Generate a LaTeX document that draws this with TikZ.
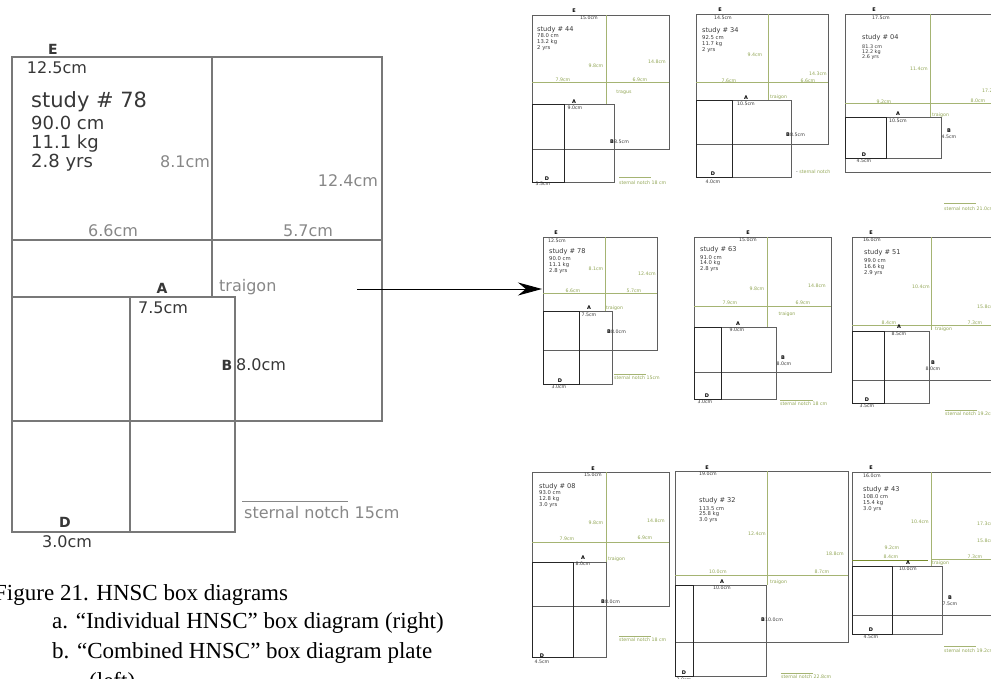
\documentclass[tikz,border=0pt]{standalone}
\usepackage{fontspec}
\usepackage{xcolor}
\setmainfont{Liberation Serif}
\newfontfamily\diafont{DejaVu Sans}
\usetikzlibrary{arrows.meta}
\definecolor{boxgrey}{RGB}{95,95,95}
\definecolor{biggrey}{RGB}{120,120,120}
\definecolor{labelgrey}{RGB}{135,135,135}
\definecolor{inkgrey}{RGB}{55,55,55}
\definecolor{oliveline}{RGB}{165,180,115}
\definecolor{olivedark}{RGB}{120,140,45}
\definecolor{olivetext}{RGB}{145,165,85}

\begin{document}
\begin{tikzpicture}[x=1pt,y=-1pt,
    bigbox/.style={draw=biggrey,line width=1.3pt},
    bigtext/.style={font=\diafont\fontsize{16}{16}\selectfont,inner sep=0,text=inkgrey},
    biggrey/.style={bigtext,text=labelgrey},
    bigletter/.style={font=\diafont\bfseries\fontsize{14}{14}\selectfont,inner sep=0,text=inkgrey},
    smbox/.style={draw=boxgrey,line width=0.75pt},
    smthick/.style={draw=black!85,line width=0.95pt},
    smgreen/.style={draw=oliveline,line width=1pt},
    sm/.style={font=\diafont\fontsize{4.7}{5}\selectfont,inner sep=0,text=inkgrey},
    smg/.style={sm,text=olivetext},
    smb/.style={font=\diafont\bfseries\fontsize{5}{5}\selectfont,inner sep=0},
    smstudy/.style={font=\diafont\fontsize{6.6}{7}\selectfont,inner sep=0,anchor=west,text=inkgrey},
    smdata/.style={font=\diafont\fontsize{5.3}{6}\selectfont,inner sep=0,anchor=north west,align=left,text=inkgrey},
    caption/.style={font=\fontsize{23}{28}\selectfont,anchor=base west,inner sep=0}]
    \useasboundingbox (0,0) rectangle (991,679);

    % Combined box diagram, study # 78 (left)
    \draw[bigbox] (12,57) rectangle (382,421);
    \draw[bigbox] (212,57) -- (212,297);
    \draw[bigbox] (12,240) -- (382,240);
    \draw[bigbox] (12,297) rectangle (235,532);
    \draw[bigbox] (130,297) -- (130,532);
    \node[bigletter] (bigE) at (53,49) {E};
    \node[bigtext] (bigtop) at (57,68) {12.5cm};
    \node[font=\diafont\fontsize{21}{21}\selectfont,inner sep=0,anchor=west,text=inkgrey] (bigstudy) at (31,102) {study \# 78};
    \node[font=\diafont\fontsize{18}{19}\selectfont,inner sep=0,anchor=north west,align=left,text=inkgrey] (bigdata) at (31,116) {90.0 cm\\11.1 kg\\2.8 yrs};
    \node[biggrey] (bigv) at (185,162) {8.1cm};
    \node[biggrey] (bigr) at (348,181) {12.4cm};
    \node[biggrey] (bigl) at (113,231) {6.6cm};
    \node[biggrey] (bigrr) at (308,231) {5.7cm};
    \node[biggrey,anchor=west] (bigtrag) at (219,287) {traigon};
    \node[bigletter] (bigA) at (162,288) {A};
    \node[bigtext,anchor=west] (bigAw) at (138,308) {7.5cm};
    \node[bigletter] (bigB) at (227,365) {B};
    \node[bigtext,anchor=west] (bigBw) at (236,365) {8.0cm};
    \node[bigletter] (bigD) at (65,522) {D};
    \node[bigtext] (bigDw) at (67,542) {3.0cm};
    \draw[draw=labelgrey,line width=1pt] (242,501) -- (348,501);
    \node[biggrey,anchor=west] (bigsn) at (244,513) {sternal notch 15cm};

    % arrow to the individual diagram
    \coordinate (arrowstart) at (357,289);
    \coordinate (arrowend) at (542,289);
    \draw[line width=0.9pt,-{Stealth[length=24pt,width=13pt]}] (arrowstart) -- (arrowend);

    % study # 44
    \draw[smbox] (532,15) rectangle (669,149);
    \draw[smgreen] (606,15) -- (606,104);
    \draw[smgreen] (532,83) -- (669,83);
    \draw[smbox] (532,104) rectangle (614,182);
    \draw[smthick] (532,104) rectangle (564,182);
    \node[smb] (p1E) at (574,11) {E};
    \node[sm] (p1top) at (589,18) {15.0cm};
    \node[smstudy] (p1study) at (537,30) {study \# 44};
    \node[smdata] (p1data) at (537,33.5) {78.0 cm\\13.2 kg\\2 yrs};
    \node[smg] (p1v) at (596,66) {9.8cm};
    \node[smg] (p1r) at (657,62) {14.8cm};
    \node[smg] (p1l) at (563,80) {7.9cm};
    \node[smg] (p1rr) at (640,80) {6.9cm};
    \node[smg] (p1trag) at (624,92) {tragus};
    \node[smb] (p1A) at (574,102) {A};
    \node[sm] (p1Aw) at (575,108) {9.0cm};
    \node[smb] (p1B) at (612,142) {B};
    \node[sm,anchor=west] (p1Bw) at (614,142) {8.5cm};
    \node[smb] (p1D) at (547,179) {D};
    \node[sm] (p1Dw) at (543,184) {3.5cm};
    \draw[smgreen] (619,178) -- (651,178);
    \node[smg,anchor=west] (p1sn) at (619,183) {sternal notch 18 cm};

    % study # 34
    \draw[smbox] (696,14) rectangle (828,144);
    \draw[smgreen] (768,14) -- (768,100);
    \draw[smgreen] (696,83) -- (828,83);
    \draw[smbox] (696,100) rectangle (791,177);
    \draw[smthick] (696,100) rectangle (732,177);
    \node[smb] (p2E) at (720,10) {E};
    \node[sm] (p2top) at (723,18) {14.5cm};
    \node[smstudy] (p2study) at (702,31) {study \# 34};
    \node[smdata] (p2data) at (702,35) {92.5 cm\\11.7 kg\\2 yrs};
    \node[smg] (p2v) at (755,55) {9.4cm};
    \node[smg] (p2r) at (818,74) {14.3cm};
    \node[smg] (p2l) at (729,81) {7.6cm};
    \node[smg] (p2rr) at (808,81) {6.6cm};
    \node[smg,anchor=west] (p2trag) at (770,97) {traigon};
    \node[smb] (p2A) at (746,98) {A};
    \node[sm] (p2Aw) at (746,104) {10.5cm};
    \node[smb] (p2B) at (788,135) {B};
    \node[sm,anchor=west] (p2Bw) at (790,135) {8.5cm};
    \node[smb] (p2D) at (713,174) {D};
    \node[sm] (p2Dw) at (713,182) {4.0cm};
    \node[smg,anchor=west] (p2sn) at (796,172) {{\color{inkgrey}-} sternal notch};

    % study # 04
    \draw[smbox] (845,14) rectangle (1000,172);
    \draw[smgreen] (930,14) -- (930,117);
    \draw[smgreen] (845,104) -- (1000,104);
    \draw[smbox] (845,117) rectangle (941,158);
    \draw[smthick] (845,117) rectangle (886,158);
    \node[smb] (p3E) at (874,10) {E};
    \node[sm] (p3top) at (881,18) {17.5cm};
    \node[smstudy] (p3study) at (862,38) {study \# 04};
    \node[smdata,font=\diafont\fontsize{4.9}{4.6}\selectfont] (p3data) at (862,44.8) {81.3 cm\\12.2 kg\\2.6 yrs};
    \node[smg] (p3v) at (919,69) {11.4cm};
    \node[smg,anchor=west] (p3r) at (982,91) {17.2cm};
    \node[smg] (p3l) at (884,102) {9.2cm};
    \node[smg] (p3rr) at (978,101) {8.0cm};
    \node[smg,anchor=west] (p3trag) at (932,115) {traigon};
    \node[smb] (p3A) at (898,114) {A};
    \node[sm] (p3Aw) at (898,121) {10.5cm};
    \node[smb] (p3B) at (949,131) {B};
    \node[sm] (p3Bw) at (949,137) {4.5cm};
    \node[smb] (p3D) at (864,155) {D};
    \node[sm] (p3Dw) at (864,161) {4.5cm};
    \draw[smgreen] (944,204) -- (976,204);
    \node[smg,anchor=west] (p3sn) at (944,209) {sternal notch 21.0cm};

    % study # 78
    \draw[smbox] (543,237) rectangle (657,350);
    \draw[smgreen] (605,237) -- (605,311);
    \draw[smgreen] (543,293) -- (657,293);
    \draw[smbox] (543,311) rectangle (612,384);
    \draw[smthick] (543,311) rectangle (579,384);
    \node[smb] (p4E) at (556,233) {E};
    \node[sm] (p4top) at (557,241) {12.5cm};
    \node[smstudy] (p4study) at (549,252) {study \# 78};
    \node[smdata] (p4data) at (549,256) {90.0 cm\\11.1 kg\\2.8 yrs};
    \node[smg] (p4v) at (596,269) {8.1cm};
    \node[smg] (p4r) at (647,274) {12.4cm};
    \node[smg] (p4l) at (573,291) {6.6cm};
    \node[smg] (p4rr) at (634,291) {5.7cm};
    \node[smg,anchor=west] (p4trag) at (606,308) {traigon};
    \node[smb] (p4A) at (589,308) {A};
    \node[sm] (p4Aw) at (589,315) {7.5cm};
    \node[smb] (p4B) at (609,332) {B};
    \node[sm,anchor=west] (p4Bw) at (611,332) {8.0cm};
    \node[smb] (p4D) at (560,381) {D};
    \node[sm] (p4Dw) at (559,387) {3.0cm};
    \draw[smgreen] (614,374) -- (646,374);
    \node[smg,anchor=west] (p4sn) at (614,378) {sternal notch 15cm};

    % study # 63
    \draw[smbox] (694,237) rectangle (831,372);
    \draw[smgreen] (767,237) -- (767,327);
    \draw[smgreen] (694,306) -- (831,306);
    \draw[smbox] (694,327) rectangle (776,399);
    \draw[smthick] (694,327) rectangle (721,399);
    \node[smb] (p5E) at (748,233) {E};
    \node[sm] (p5top) at (748,240) {15.0cm};
    \node[smstudy] (p5study) at (700,250) {study \# 63};
    \node[smdata,font=\diafont\fontsize{5.3}{5.5}\selectfont] (p5data) at (700,255) {91.0 cm\\14.0 kg\\2.8 yrs};
    \node[smg] (p5v) at (757,289) {9.8cm};
    \node[smg] (p5r) at (817,286) {14.8cm};
    \node[smg] (p5l) at (730,303) {7.9cm};
    \node[smg] (p5rr) at (803,303) {6.9cm};
    \node[smg] (p5trag) at (787,314) {traigon};
    \node[smb] (p5A) at (738,324) {A};
    \node[sm] (p5Aw) at (737,330) {9.0cm};
    \node[smb] (p5B) at (783,358) {B};
    \node[sm] (p5Bw) at (784,364) {8.0cm};
    \node[smb] (p5D) at (707,396) {D};
    \node[sm] (p5Dw) at (705,402) {3.0cm};
    \draw[smgreen] (780,400) -- (813,400);
    \node[smg,anchor=west] (p5sn) at (780,404) {sternal notch 18 cm};

    % study # 51
    \draw[smbox] (852,237) rectangle (1000,380);
    \draw[smgreen] (931,237) -- (931,330);
    \draw[smgreen] (852,325) -- (1000,325);
    \draw[smbox] (852,331) rectangle (929,403);
    \draw[smthick] (852,331) rectangle (884,403);
    \node[smb] (p6E) at (871,233) {E};
    \node[sm] (p6top) at (872,240) {16.0cm};
    \node[smstudy] (p6study) at (864,253) {study \# 51};
    \node[smdata] (p6data) at (864,258) {99.0 cm\\16.6 kg\\2.9 yrs};
    \node[smg] (p6v) at (921,287) {10.4cm};
    \node[smg,anchor=west] (p6r) at (977,307) {15.8cm};
    \node[smg] (p6l) at (889,323) {8.4cm};
    \node[smg] (p6rr) at (975,323) {7.3cm};
    \node[smg,anchor=west] (p6trag) at (935,329) {traigon};
    \node[smb] (p6A) at (899,327) {A};
    \node[sm] (p6Aw) at (899,334) {8.5cm};
    \node[smb] (p6B) at (933,363) {B};
    \node[sm] (p6Bw) at (933,369) {8.0cm};
    \node[smb] (p6D) at (867,400) {D};
    \node[sm] (p6Dw) at (867,406) {3.5cm};
    \draw[smgreen] (945,410) -- (977,410);
    \node[smg,anchor=west] (p6sn) at (945,414) {sternal notch 19.2cm};

    % study # 08
    \draw[smbox] (532,472) rectangle (669,606);
    \draw[smgreen] (606,472) -- (606,562);
    \draw[smgreen] (532,542) -- (669,542);
    \draw[smbox] (532,562) rectangle (606,657);
    \draw[smthick] (532,562) rectangle (573,657);
    \node[smb] (p7E) at (593,469) {E};
    \node[sm] (p7top) at (593,475) {15.0cm};
    \node[smstudy] (p7study) at (539,487) {study \# 08};
    \node[smdata] (p7data) at (539,490) {93.0 cm\\12.8 kg\\3.0 yrs};
    \node[smg] (p7v) at (596,523) {9.8cm};
    \node[smg] (p7r) at (656,521) {14.8cm};
    \node[smg] (p7l) at (567,539) {7.9cm};
    \node[smg] (p7rr) at (645,538) {6.9cm};
    \node[smg,anchor=west] (p7trag) at (608,559) {traigon};
    \node[smb] (p7A) at (583,558) {A};
    \node[sm] (p7Aw) at (583,564) {8.0cm};
    \node[smb] (p7B) at (603,602) {B};
    \node[sm,anchor=west] (p7Bw) at (605,602) {8.0cm};
    \node[smb] (p7D) at (542,656) {D};
    \node[sm] (p7Dw) at (542,662) {4.5cm};
    \draw[smgreen] (619,636) -- (651,636);
    \node[smg,anchor=west] (p7sn) at (619,640) {sternal notch 18 cm};

    % study # 32
    \draw[smbox] (675,471) rectangle (848,642);
    \draw[smgreen] (767,471) -- (767,585);
    \draw[smgreen] (675,575) -- (848,575);
    \draw[smbox] (675,585) rectangle (766,676);
    \draw[smthick] (675,585) rectangle (693,676);
    \node[smb] (p8E) at (707,468) {E};
    \node[sm] (p8top) at (708,474) {19.0cm};
    \node[smstudy] (p8study) at (699,501) {study \# 32};
    \node[smdata,font=\diafont\fontsize{5.3}{5.6}\selectfont] (p8data) at (699,506) {113.5 cm\\25.8 kg\\3.0 yrs};
    \node[smg] (p8v) at (757,534) {12.4cm};
    \node[smg] (p8r) at (835,554) {18.8cm};
    \node[smg] (p8l) at (718,572) {10.0cm};
    \node[smg] (p8rr) at (822,572) {8.7cm};
    \node[smg,anchor=west] (p8trag) at (770,582) {traigon};
    \node[smb] (p8A) at (722,582) {A};
    \node[sm] (p8Aw) at (722,588) {10.0cm};
    \node[smb] (p8B) at (763,620) {B};
    \node[sm,anchor=west] (p8Bw) at (765,620) {10.0cm};
    \node[smb] (p8D) at (684,673) {D};
    \node[sm] (p8Dw) at (684,680) {3.0cm};
    \draw[smgreen] (781,673) -- (813,673);
    \node[smg,anchor=west] (p8sn) at (781,677) {sternal notch 22.8cm};

    % study # 43
    \draw[smbox] (852,472) rectangle (1000,615);
    \draw[smgreen] (931,472) -- (931,566);
    \draw[smgreen] (931,559) -- (1000,559);
    \draw[draw=olivedark,line width=1pt] (852,560) -- (928,560);
    \draw[smbox] (852,566) rectangle (942,634);
    \draw[smthick] (852,566) rectangle (892,634);
    \node[smb] (p9E) at (871,468) {E};
    \node[sm] (p9top) at (872,476) {16.0cm};
    \node[smstudy] (p9study) at (863,490) {study \# 43};
    \node[smdata] (p9data) at (863,494) {108.0 cm\\15.4 kg\\3.0 yrs};
    \node[smg] (p9v) at (920,522) {10.4cm};
    \node[smg,anchor=west] (p9r) at (977,524) {17.3cm};
    \node[smg,anchor=west] (p9rb) at (977,541) {15.8cm};
    \node[smg] (p9la) at (892,548) {9.2cm};
    \node[smg] (p9l) at (891,557) {8.4cm};
    \node[smg] (p9rr) at (975,557) {7.3cm};
    \node[smg,anchor=west] (p9trag) at (932,563) {traigon};
    \node[smb] (p9A) at (908,563) {A};
    \node[sm] (p9Aw) at (908,569) {10.0cm};
    \node[smb] (p9B) at (950,598) {B};
    \node[sm] (p9Bw) at (950,604) {7.5cm};
    \node[smb] (p9D) at (871,630) {D};
    \node[sm] (p9Dw) at (871,637) {4.5cm};
    \draw[smgreen] (944,646) -- (976,646);
    \node[smg,anchor=west] (p9sn) at (944,651) {sternal notch 19.2cm};

    % caption
    \node[caption] (capfig) at (-6,600) {Figure 21. HNSC box diagrams};
    \node[caption] (capa) at (52,628) {a. ``Individual HNSC'' box diagram (right)};
    \node[caption] (capb) at (52,658) {b. ``Combined HNSC'' box diagram plate};
    \node[caption] (capc) at (89,688) {(left)};
\end{tikzpicture}
\end{document}
